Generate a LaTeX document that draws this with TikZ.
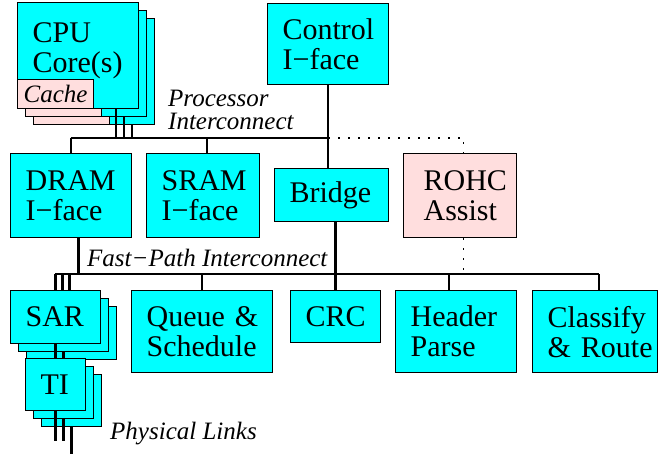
\documentclass[tikz,border=0pt]{standalone}
\usepackage{fontspec}
\setmainfont{Liberation Serif}
\usepackage{xcolor}
\usepackage{tikz}
\usetikzlibrary{positioning}
\definecolor{unitcyan}{RGB}{0,255,255}
\definecolor{rohcpink}{RGB}{255,222,222}
\newcommand{\blkfont}{\fontsize{30}{30}\selectfont}
\newcommand{\lblfont}{\fontsize{25}{23}\selectfont\itshape}

\tikzset{
  blk/.style={draw, fill=unitcyan, line width=1.2pt, anchor=north west, align=left, inner xsep=15pt, inner ysep=0pt, font=\blkfont},
  cache/.style={blk, fill=rohcpink, align=center, inner xsep=0pt, font=\lblfont, minimum width=76pt, minimum height=29pt},
  bus/.style={line width=2.4pt},
  dotbus/.style={line width=1.5pt, dash pattern=on 1.5pt off 8.5pt},
  lbl/.style={font=\lblfont, inner sep=0pt, align=left}
}

\begin{document}
\begin{tikzpicture}[x=1pt, y=-1pt]
\useasboundingbox (0,0) rectangle (658,454);
% processor side
\foreach \d [count=\i] in {16,8} {
  \node[blk, text width=91pt, minimum height=106pt] (cpu_s\i) at (17+\d,2+\d) {};
  \node[cache] (cache_s\i) at (17+\d,79+\d) {};
}
\node[blk, text width=91pt, minimum height=106pt, text depth=46pt] (cpu) at (17,2) {CPU\\Core(s)};
\node[cache] (cache) at (17,79) {Cache};
\node[blk, text width=91pt, minimum height=81pt] (ctrl_if) at (267,3) {Control\\I−face};
\node[blk, text width=91pt, minimum height=84pt] (dram_if) at (10,153) {DRAM\\I−face};
\node[blk, text width=83pt, minimum height=84pt] (sram_if) at (146,153) {SRAM\\I−face};
\node[blk, text width=84pt, minimum height=53pt] (bridge) at (274,168) {Bridge};
\node[blk, fill=rohcpink, inner xsep=20pt, text width=73pt, minimum height=84pt] (rohc) at (403,153) {ROHC\\Assist};
% fast path side
\foreach \d [count=\i] in {16,8}
  \node[blk, text width=60pt, minimum height=53pt] (sar_s\i) at (10+\d,290+\d) {};
\node[blk, text width=60pt, minimum height=53pt] (sar) at (10,290) {SAR};
\foreach \d [count=\i] in {16,8}
  \node[blk, text width=30pt, minimum height=52pt] (ti_s\i) at (25+\d,358+\d) {};
\node[blk, text width=30pt, minimum height=52pt] (ti) at (25,358) {TI};
\node[blk, text width=111pt, minimum height=82pt] (queue) at (131,290) {Queue~\&\\Schedule};
\node[blk, text width=60pt, minimum height=52pt] (crc) at (290,290) {CRC};
\node[blk, text width=91pt, minimum height=82pt] (hdr) at (395,290) {Header\\Parse};
\node[blk, text width=95pt, minimum height=82pt] (classify) at (532,290) {Classify\\\&~Route};
% buses
\coordinate (pbus_l) at (70.5,138);
\coordinate (fbus_l) at (55,274);
\coordinate (fbus_r) at (599,274);
\draw[bus] (pbus_l) -- (pbus_l -| ctrl_if.south);
\foreach \c in {cpu,cpu_s2,cpu_s1}
  \draw[bus] ([xshift=38pt]\c.south) -- ([xshift=38pt]\c.south |- pbus_l);
\draw[bus] (dram_if.north) -- (dram_if.north |- pbus_l);
\draw[bus] ([xshift=4pt]sram_if.north) -- ([xshift=4pt]sram_if.north |- pbus_l);
\draw[bus] (ctrl_if.south) -- (ctrl_if.south |- bridge.north);
\draw[dotbus] (ctrl_if.south |- pbus_l) -| ([xshift=3.5pt]rohc.north);
\draw[dotbus] ([xshift=3.5pt]rohc.south) -- ([xshift=3.5pt]rohc.south |- fbus_l);
\draw[bus] (fbus_l) -- (fbus_r);
\draw[bus] ([xshift=7.5pt]dram_if.south) -- ([xshift=7.5pt]dram_if.south |- fbus_l);
\draw[bus] (crc.north |- bridge.south) -- (crc.north);
\foreach \s in {0,7,14}
  \draw[bus] ([xshift=\s pt]sar.north |- fbus_l) -- ([xshift=\s pt]sar.north);
\draw[bus] (queue.north |- fbus_l) -- (queue.north);
\draw[bus] ([xshift=-7pt]hdr.north |- fbus_l) -- ([xshift=-7pt]hdr.north);
\draw[bus] (fbus_r) -- (fbus_r |- classify.north);
\draw[bus] (sar.south) -- (ti.north);
\draw[bus] (sar_s2.south) -- (sar_s2.south |- ti.north);
\draw[bus] (ti.south) -- ++(0,30);
\draw[bus] (ti_s2.south) -- ++(0,22);
\draw[bus] (ti_s1.south) -- ++(0,29);
% labels
\node[lbl, anchor=north west] (proc_lbl) at (168,90) {Processor\\Interconnect};
\node[lbl, anchor=base west] (fast_lbl) at (87,266) {Fast−Path Interconnect};
\node[lbl, anchor=base west] (phys_lbl) at (110,439) {Physical Links};
\end{tikzpicture}
\end{document}
